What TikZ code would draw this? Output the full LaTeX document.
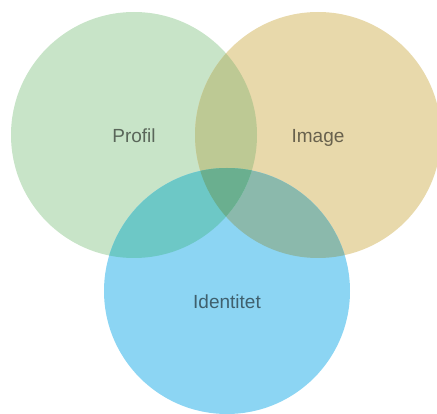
\documentclass[tikz,border=0pt]{standalone}
\usepackage{fontspec}
\setmainfont{Liberation Sans}
\definecolor{profilfill}{HTML}{C8E4C8}
\definecolor{imagefill}{HTML}{E8D9AB}
\definecolor{identfill}{HTML}{8CD5F3}
\definecolor{profilimage}{HTML}{BDC994}
\definecolor{profilident}{HTML}{6DC8C6}
\definecolor{imageident}{HTML}{8BB9AC}
\definecolor{allthree}{HTML}{6AAF8F}
\tikzset{
  setlabel/.style={font=\fontsize{19}{22}\selectfont, text=black, text opacity=0.55, anchor=base}
}
\begin{document}
\begin{tikzpicture}[x=1pt, y=-1pt]
\useasboundingbox (0,0) rectangle (437,414);
% centres of the three sets
\coordinate (cprofil) at (134,135);
\coordinate (cimage) at (318,135);
\coordinate (cident) at (227,291);
% plain circles
\fill[profilfill] (cprofil) circle[radius=123pt];
\fill[imagefill] (cimage) circle[radius=123pt];
\fill[identfill] (cident) circle[radius=123pt];
% pairwise overlaps
\begin{scope}
  \clip (cimage) circle[radius=123pt];
  \fill[imageident] (cident) circle[radius=123pt];
\end{scope}
\begin{scope}
  \clip (cprofil) circle[radius=123pt];
  \fill[profilimage] (cimage) circle[radius=123pt];
  \fill[profilident] (cident) circle[radius=123pt];
  % centre, all three
  \clip (cimage) circle[radius=123pt];
  \fill[allthree] (cident) circle[radius=123pt];
\end{scope}
% labels
\node[setlabel] (profil) at (134,143) {Profil};
\node[setlabel] (image) at (318,143) {Image};
\node[setlabel] (ident) at (227,309) {Identitet};
\end{tikzpicture}
\end{document}
